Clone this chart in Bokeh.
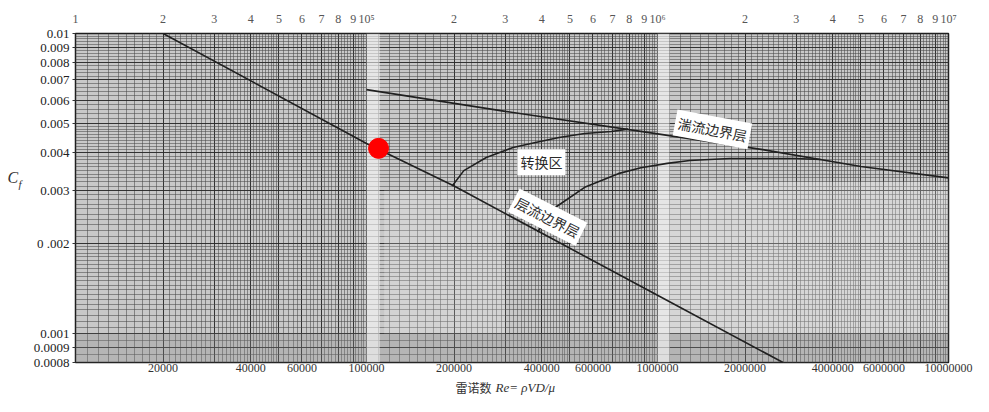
import numpy as np
from bokeh.plotting import figure
from bokeh.layouts import row, column
from bokeh.models import (LogAxis, FixedTicker, Label, BoxAnnotation, Range1d,
                          AllLabels)
from bokeh.core.properties import value
from bokeh.embed import file_html
from bokeh.resources import INLINE

# ---------------- data ----------------
laminar_re = [20000, 100000, 200000, 1000000, 2700000]
laminar_cf = [0.0100, 0.0043, 0.0031, 0.00134, 0.0008]

turb_re = [100000, 300000, 900000, 2300000, 5000000, 10000000]
turb_cf = [0.0065, 0.0055, 0.0047, 0.0041, 0.0036, 0.0033]

upper_re = [197000, 216000, 258000, 319000, 381000, 459000, 562000, 694000, 792000]
upper_cf = [0.0031, 0.00349, 0.00386, 0.00417, 0.00433, 0.00450, 0.00464, 0.00471, 0.0048]

lower_re = [387000, 445000, 562000, 733000, 877000, 1080000, 1290000, 1770000, 2970000, 3630000]
lower_cf = [0.00218, 0.00263, 0.00307, 0.00341, 0.00357, 0.00369, 0.00377, 0.00383, 0.00383, 0.0038]

dot_re = [110000]
dot_cf = [0.00414]

re_ticks = [20000, 40000, 60000, 100000, 200000, 400000, 600000, 1000000,
            2000000, 4000000, 6000000, 10000000]
re_tick_labels = ["20000", "40000", "60000", "100000", "200000", "400000", "600000",
                  "1000000", "2000000", "4000000", "6000000", "10000000"]

top_ticks = [m * 10 ** e for e in (4, 5, 6) for m in range(1, 10)] + [10 ** 7]
top_tick_labels = (["1"] + [str(m) for m in range(2, 10)] + ["10⁵"]
                   + [str(m) for m in range(2, 10)] + ["10⁶"]
                   + [str(m) for m in range(2, 10)] + ["10⁷"])

cf_ticks = [0.0008, 0.0009, 0.001, 0.002, 0.003, 0.004, 0.005, 0.006, 0.007,
            0.008, 0.009, 0.01]
cf_tick_labels = ["0.0008", "0.0009", "0.001", "0 .002", "0.003", "0.004", "0.005",
                  "0.006", "0.007", "0.008", "0.009", "0.01"]

region_labels = ["湍流边界层", "转换区", "层流边界层"]
region_re = [1545000, 399000, 419000]
region_cf = [0.00479, 0.00372, 0.00244]
region_angle = [-0.185, 0.0, -0.47]

y_title = ["C", "f"]
x_title = ["雷诺数", "Re= ρVD/μ"]

# ---------------- layout sizes ----------------
TOTAL_W, TOTAL_H = 973, 396
LEFT_W = 30          # strip holding the C_f title
MAIN_H = 378         # main plot height; title strip below
TITLE_H = TOTAL_H - MAIN_H
MAIN_W = TOTAL_W - LEFT_W

# ---------------- main figure ----------------
p = figure(width=MAIN_W, height=MAIN_H, x_axis_type="log", y_axis_type="log",
           x_range=Range1d(1e4, 1e7), y_range=Range1d(0.0008, 0.01),
           output_backend="svg", toolbar_location=None,
           min_border_left=45, min_border_right=25, min_border_top=33,
           min_border_bottom=16)
p.background_fill_color = "#c8c8c8"
p.border_fill_color = "white"
p.outline_line_color = "#1e1e1e"
p.outline_line_width = 1.5

def paper(decades):
    minor = []
    for e in decades:
        for a, b, s in ((1, 2, 0.1), (2, 5, 0.1), (5, 10, 0.2)):
            for m in np.arange(a, b - 1e-9, s):
                minor.append(float(round(m, 2)) * 10.0 ** e)
    return minor

x_major = [float(t) for t in top_ticks]
x_minor = paper((4, 5, 6))
y_major = [m * 1e-4 for m in (8, 9)] + [m * 1e-3 for m in range(1, 11)]
y_minor = [m * 1e-4 for m in (8.0, 8.5, 9.0, 9.5)]
for a, b, s in ((1, 2, 0.05), (2, 5, 0.1), (5, 10, 0.2)):
    for m in np.arange(a, b - 1e-9, s):
        y_minor.append(float(round(m, 2)) * 1e-3)

p.xgrid.ticker = FixedTicker(ticks=x_major, minor_ticks=x_minor)
p.ygrid.ticker = FixedTicker(ticks=y_major, minor_ticks=y_minor)
for g in (p.xgrid[0], p.ygrid[0]):
    g.grid_line_color = "#2a2a2a"
    g.grid_line_width = 1
    g.grid_line_alpha = 0.9
    g.minor_grid_line_color = "#4a4a4a"
    g.minor_grid_line_width = 0.7
    g.minor_grid_line_alpha = 0.8

# paper shading
p.add_layout(BoxAnnotation(bottom=0.0008, top=0.001, fill_color="#8c8c8c",
                           fill_alpha=0.3, line_color=None, level="underlay"))
p.add_layout(BoxAnnotation(left=1e5, right=1.11e5, fill_color="white",
                           fill_alpha=0.55, line_color=None, level="underlay"))
p.add_layout(BoxAnnotation(left=1e6, right=1.1e6, fill_color="white",
                           fill_alpha=0.55, line_color=None, level="underlay"))
p.add_layout(BoxAnnotation(left=1.1e6, right=1e7, bottom=0.001, top=0.0032,
                           fill_color="white", fill_alpha=0.25, line_color=None,
                           level="underlay"))
p.add_layout(BoxAnnotation(left=1.15e5, right=3e5, bottom=0.001, top=0.003,
                           fill_color="white", fill_alpha=0.2, line_color=None,
                           level="underlay"))

# curves
line_kw = dict(line_color="#202020", line_width=1.6)
p.line(laminar_re, laminar_cf, **line_kw)
p.line(turb_re, turb_cf, **line_kw)
p.line(upper_re, upper_cf, **line_kw)
p.line(lower_re, lower_cf, **line_kw)
p.scatter(dot_re, dot_cf, size=20, fill_color="#ff0000", line_color="#ff0000")

# region labels
for txt, rx, ry, ang in zip(region_labels, region_re, region_cf, region_angle):
    p.add_layout(Label(x=rx, y=ry, text=txt, angle=ang, text_align="center",
                       text_baseline="middle", text_font="Noto Sans CJK SC",
                       text_font_size="14px", text_color="#2a2a2a",
                       background_fill_color="white", background_fill_alpha=1.0,
                       padding=3))

# bottom axis
bx = p.below[0]
bx.ticker = FixedTicker(ticks=re_ticks)
bx.major_label_overrides = {t: l for t, l in zip(re_ticks, re_tick_labels)}
bx.major_label_policy = AllLabels()
bx.axis_line_color = None
bx.major_tick_line_color = None
bx.minor_tick_line_color = None
bx.major_tick_in = 0
bx.major_tick_out = 0
bx.minor_tick_in = 0
bx.minor_tick_out = 0
bx.major_label_standoff = 1
bx.major_label_text_font = "Liberation Serif"
bx.major_label_text_font_size = "12px"
bx.major_label_text_color = "#333333"

# top axis
tx = LogAxis(ticker=FixedTicker(ticks=top_ticks),
             major_label_overrides={t: l for t, l in zip(top_ticks, top_tick_labels)})
tx.major_label_policy = AllLabels()
tx.axis_line_color = None
tx.major_tick_line_color = None
tx.minor_tick_line_color = None
tx.major_tick_in = 0
tx.major_tick_out = 0
tx.minor_tick_in = 0
tx.minor_tick_out = 0
tx.major_label_standoff = 8
tx.major_label_text_font = "Liberation Serif"
tx.major_label_text_font_size = "12px"
tx.major_label_text_color = "#555555"
p.add_layout(tx, "above")

# left axis
ly = p.left[0]
ly.ticker = FixedTicker(ticks=cf_ticks)
ly.major_label_overrides = {t: l for t, l in zip(cf_ticks, cf_tick_labels)}
ly.major_label_policy = AllLabels()
ly.axis_line_color = None
ly.major_tick_in = 0
ly.major_tick_out = 3
ly.major_tick_line_color = "#333333"
ly.minor_tick_line_color = None
ly.minor_tick_in = 0
ly.minor_tick_out = 0
ly.major_label_standoff = 3
ly.major_label_text_font = "Liberation Serif"
ly.major_label_text_font_size = "13px"
ly.major_label_text_color = "#222222"

# ---------------- title strips ----------------
def strip(w, h):
    f = figure(width=w, height=h, x_range=Range1d(0, w), y_range=Range1d(h, 0),
               x_axis_location=None, y_axis_location=None, output_backend="svg",
               toolbar_location=None, min_border=0)
    f.xgrid.visible = False
    f.ygrid.visible = False
    f.outline_line_color = None
    f.background_fill_color = "white"
    f.border_fill_color = "white"
    return f

left = strip(LEFT_W, MAIN_H)
left.text(x=[7], y=[166], text=[y_title[0]], text_align="left", text_baseline="middle",
          text_font=value("Liberation Serif"), text_font_style="italic",
          text_font_size=value("16px"), text_color="#333333")
left.text(x=[18], y=[173], text=[y_title[1]], text_align="left", text_baseline="middle",
          text_font=value("Liberation Serif"), text_font_style="italic",
          text_font_size=value("11px"), text_color="#333333")

bottom = strip(TOTAL_W, TITLE_H)
bottom.text(x=[491], y=[TITLE_H / 2], text=[x_title[0]], text_align="right",
            text_baseline="middle", text_font=value("Noto Sans CJK SC"),
            text_font_size=value("12px"), text_color="#333333")
bottom.text(x=[495], y=[TITLE_H / 2], text=[x_title[1]], text_align="left",
            text_baseline="middle", text_font=value("Liberation Serif"),
            text_font_style="italic", text_font_size=value("13px"),
            text_color="#333333")

layout = column(row(left, p, spacing=0), bottom, spacing=0)

open("out.html", "w").write(file_html(layout, INLINE))
